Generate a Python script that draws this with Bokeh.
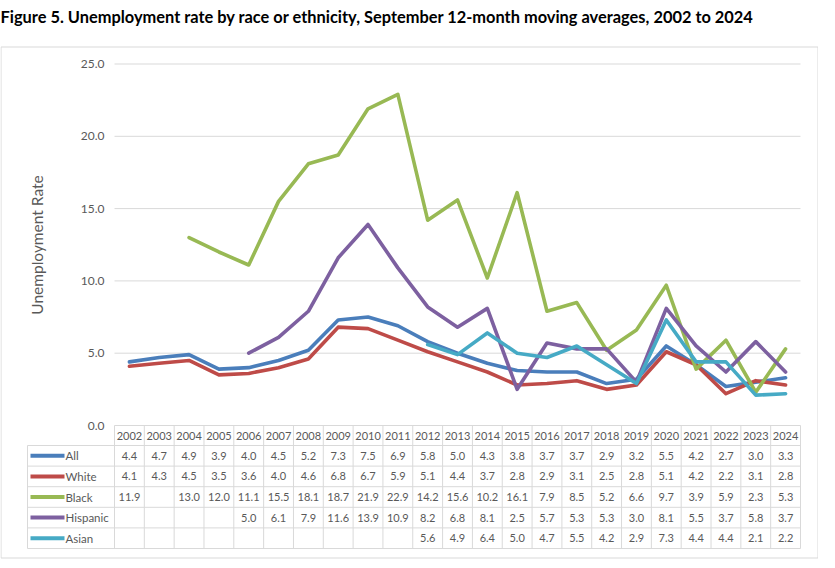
import math
from bokeh.plotting import figure
from bokeh.models import Range1d, FixedTicker, NumeralTickFormatter
from bokeh.embed import file_html
from bokeh.resources import INLINE
from bokeh.core.properties import value

NA = float("nan")

# ---- data ----
years = list(range(2002, 2025))
series_names = ["All", "White", "Black", "Hispanic", "Asian"]
all_rate = [4.4, 4.7, 4.9, 3.9, 4.0, 4.5, 5.2, 7.3, 7.5, 6.9, 5.8, 5.0, 4.3, 3.8, 3.7, 3.7, 2.9, 3.2, 5.5, 4.2, 2.7, 3.0, 3.3]
white_rate = [4.1, 4.3, 4.5, 3.5, 3.6, 4.0, 4.6, 6.8, 6.7, 5.9, 5.1, 4.4, 3.7, 2.8, 2.9, 3.1, 2.5, 2.8, 5.1, 4.2, 2.2, 3.1, 2.8]
black_rate = [11.9, NA, 13.0, 12.0, 11.1, 15.5, 18.1, 18.7, 21.9, 22.9, 14.2, 15.6, 10.2, 16.1, 7.9, 8.5, 5.2, 6.6, 9.7, 3.9, 5.9, 2.3, 5.3]
hispanic_rate = [NA, NA, NA, NA, 5.0, 6.1, 7.9, 11.6, 13.9, 10.9, 8.2, 6.8, 8.1, 2.5, 5.7, 5.3, 5.3, 3.0, 8.1, 5.5, 3.7, 5.8, 3.7]
asian_rate = [NA, NA, NA, NA, NA, NA, NA, NA, NA, NA, 5.6, 4.9, 6.4, 5.0, 4.7, 5.5, 4.2, 2.9, 7.3, 4.4, 4.4, 2.1, 2.2]
y_ticks = [0, 5, 10, 15, 20, 25]
title_text = "Figure 5. Unemployment rate by race or ethnicity, September 12-month moving averages, 2002 to 2024"

series_values = [all_rate, white_rate, black_rate, hispanic_rate, asian_rate]
colors = ["#4A7EBB", "#BE4B48", "#98B954", "#7D60A0", "#46AAC5"]

FONT = "Lato"
GRAY = "#595959"
LINE = "#d9d9d9"

# ---- geometry helpers (canvas pixels -> data units) ----
y_max = y_ticks[-1]
px_zero, px_top = 425.0, 63.5
S = (px_zero - px_top) / y_max          # px per rate unit
COL = 686.0 / len(years)               # px per year column
x_lo, x_hi = years[0] - 0.5, years[-1] + 0.5


def V(py):
    return (px_zero - py) / S


def X(px):
    return x_lo + (px - 122.0) / COL


p = figure(width=818, height=560,
           x_range=Range1d(X(8), X(826)), y_range=Range1d(V(560), V(0)),
           output_backend="svg", toolbar_location=None, x_axis_location=None,
           min_border_left=0, min_border_right=0, min_border_top=0, min_border_bottom=0,
           outline_line_color=None,
           background_fill_color="white", border_fill_color="white")

p.grid.visible = False

# title
p.text(x=[X(8)], y=[V(16)], text=[title_text], text_align="left", text_baseline="middle",
       text_font=value(FONT), text_font_size="16.4px", text_font_style="bold", text_color="#000000")

# chart box
p.quad(left=[X(8.5)], right=[X(825.5)], top=[V(46.5)], bottom=[V(557.5)],
       fill_color=None, line_color=LINE, line_width=1)

# ---- y axis at the left edge of the chart area ----
ya = p.yaxis[0]
ya.fixed_location = x_lo
ya.bounds = (0, y_max)
ya.ticker = FixedTicker(ticks=y_ticks)
ya.formatter = NumeralTickFormatter(format="0.0")
ya.axis_line_color = None
ya.major_tick_in = 0
ya.major_tick_out = 0
ya.minor_tick_in = 0
ya.minor_tick_out = 0
ya.major_label_standoff = 10
ya.major_label_text_font = FONT
ya.major_label_text_font_size = "12px"
ya.major_label_text_color = GRAY
ya.axis_label = "Unemployment Rate"
ya.axis_label_standoff = 32
ya.axis_label_text_font = FONT
ya.axis_label_text_font_size = "15.5px"
ya.axis_label_text_font_style = "normal"
ya.axis_label_text_color = GRAY

# horizontal gridlines at the y ticks
p.segment(x0=[x_lo] * len(y_ticks), x1=[x_hi] * len(y_ticks), y0=y_ticks, y1=y_ticks,
          line_color=LINE, line_width=1)

# ---- series lines ----
for vals, c in zip(series_values, colors):
    p.line(years, vals, line_color=c, line_width=3.6, line_join="round", line_cap="round")

# ---- data table ----
nrows = len(series_names)
hdr_top, hdr_bot = 425.0, 445.0
row_h = 20.6
row_edges_px = [hdr_bot + i * row_h for i in range(nrows + 1)]
row_mid_px = [hdr_bot + (i + 0.5) * row_h for i in range(nrows)]
left_edge = X(35)

# horizontal rules of the table body
ry = [V(py) for py in row_edges_px]
p.segment(x0=[left_edge] * len(ry), x1=[x_hi] * len(ry), y0=ry, y1=ry, line_color=LINE, line_width=1)
# vertical rules: header + body for year columns, body only for label column
vx = [y - 0.5 for y in years] + [x_hi]
p.segment(x0=vx, x1=vx, y0=[V(hdr_top)] * len(vx), y1=[ry[-1]] * len(vx), line_color=LINE, line_width=1)
p.segment(x0=[left_edge], x1=[left_edge], y0=[ry[0]], y1=[ry[-1]], line_color=LINE, line_width=1)

# header (years)
p.text(x=years, y=[V((hdr_top + hdr_bot) / 2)] * len(years), text=[str(y) for y in years],
       text_align="center", text_baseline="middle",
       text_font=value(FONT), text_font_size="11px", text_color=GRAY)

# values
cx, cy, ct = [], [], []
for i, vals in enumerate(series_values):
    for yr, v in zip(years, vals):
        if not math.isnan(v):
            cx.append(yr)
            cy.append(V(row_mid_px[i]))
            ct.append(f"{v:.1f}")
p.text(x=cx, y=cy, text=ct, text_align="center", text_baseline="middle",
       text_font=value(FONT), text_font_size="11px", text_color=GRAY)

# legend keys + series names
rows_y = [V(py) for py in row_mid_px]
p.segment(x0=[X(38)] * nrows, x1=[X(72)] * nrows, y0=rows_y, y1=rows_y,
          line_color=colors, line_width=4)
p.text(x=[X(73)] * nrows, y=rows_y, text=series_names, text_align="left",
       text_baseline="middle", text_font=value(FONT), text_font_size="11.5px", text_color=GRAY)

open("out.html", "w").write(file_html(p, INLINE))
